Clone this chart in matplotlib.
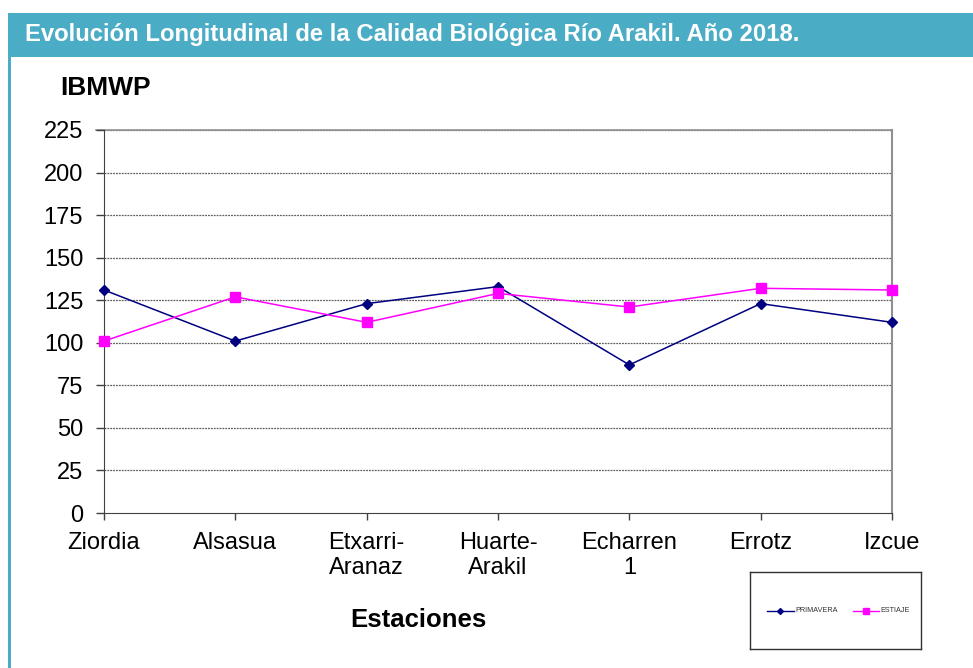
import matplotlib
matplotlib.use("Agg")
import matplotlib.pyplot as plt
from matplotlib.patches import Rectangle
from matplotlib.lines import Line2D

plt.rcParams['font.family'] = ['Liberation Sans', 'DejaVu Sans']

stations = ["Ziordia", "Alsasua", "Etxarri-\nAranaz", "Huarte-\nArakil", "Echarren\n1", "Errotz", "Izcue"]
primavera = [131, 101, 123, 133, 87, 123, 112]
estiaje = [101, 127, 112, 129, 121, 132, 131]
yticks = [0, 25, 50, 75, 100, 125, 150, 175, 200, 225]

W, H = 973, 668
fig = plt.figure(figsize=(W / 100, H / 100), dpi=100)

# header bar and left border
fig.patches.append(Rectangle((8 / W, 1 - 57 / H), 1 - 8 / W, 44 / H, transform=fig.transFigure,
                             facecolor='#4BACC6', edgecolor='none', zorder=0))
fig.patches.append(Rectangle((8 / W, 0), 3 / W, 1 - 57 / H, transform=fig.transFigure,
                             facecolor='#4BACC6', edgecolor='none', zorder=0))
fig.text(25 / W, 1 - 35 / H, "Evolución Longitudinal de la Calidad Biológica Río Arakil. Año 2018.",
         color='white', fontsize=17.2, fontweight='bold', va='center', ha='left')

ax = fig.add_axes([104 / W, 1 - 513 / H, (892 - 104) / W, (513 - 130) / H])
x = list(range(len(stations)))
ax.plot(x, primavera, color='#000080', marker='D', markersize=5, linewidth=1.1, label='PRIMAVERA',
        clip_on=False, zorder=3)
ax.plot(x, estiaje, color='#FF00FF', marker='s', markersize=7, linewidth=1.1, label='ESTIAJE',
        clip_on=False, zorder=3)

ax.set_xlim(0, len(stations) - 1)
ax.set_ylim(0, 225)
ax.set_yticks(yticks)
ax.set_xticks(x)
ax.set_xticklabels(stations, fontsize=17, linespacing=1.15)
ax.tick_params(axis='y', labelsize=17, length=6, width=1, color='#404040', pad=9)
ax.tick_params(axis='x', length=5, width=1, color='#404040', pad=9)
for y in yticks[1:]:
    ax.axhline(y, color='#606060', linewidth=0.9, linestyle=(0, (1.5, 0.8)), zorder=1)
ax.axhline(225, xmin=-0.01, color='#909090', linewidth=1.2, zorder=1, clip_on=False)
ax.spines['top'].set_visible(False)
ax.spines['right'].set_color('#909090')
ax.spines['right'].set_linewidth(1.5)
ax.spines['left'].set_color('#404040')
ax.spines['bottom'].set_color('#404040')

fig.text(60 / W, 1 - 88 / H, "IBMWP", fontsize=19, fontweight='bold', va='center', ha='left')
fig.text(418 / W, 1 - 620 / H, "Estaciones", fontsize=18.5, fontweight='bold', va='center', ha='center')

# legend
lax = fig.add_axes([750 / W, 1 - 649 / H, (921 - 750) / W, (649 - 572) / H])
lax.set_xlim(0, 1)
lax.set_ylim(0, 1)
lax.set_xticks([])
lax.set_yticks([])
for s in lax.spines.values():
    s.set_color('#303030')
    s.set_linewidth(1)
lax.add_line(Line2D([0.1, 0.255], [0.5, 0.5], color='#000080', linewidth=1))
lax.plot([0.177], [0.5], marker='D', color='#000080', markersize=3)
lax.text(0.265, 0.5, "PRIMAVERA", fontsize=5.2, va='center', ha='left', color='#303030')
lax.add_line(Line2D([0.6, 0.755], [0.5, 0.5], color='#FF00FF', linewidth=1))
lax.plot([0.677], [0.5], marker='s', color='#FF00FF', markersize=4)
lax.text(0.765, 0.5, "ESTIAJE", fontsize=5.2, va='center', ha='left', color='#303030')

fig.savefig("out.png", dpi=100)
